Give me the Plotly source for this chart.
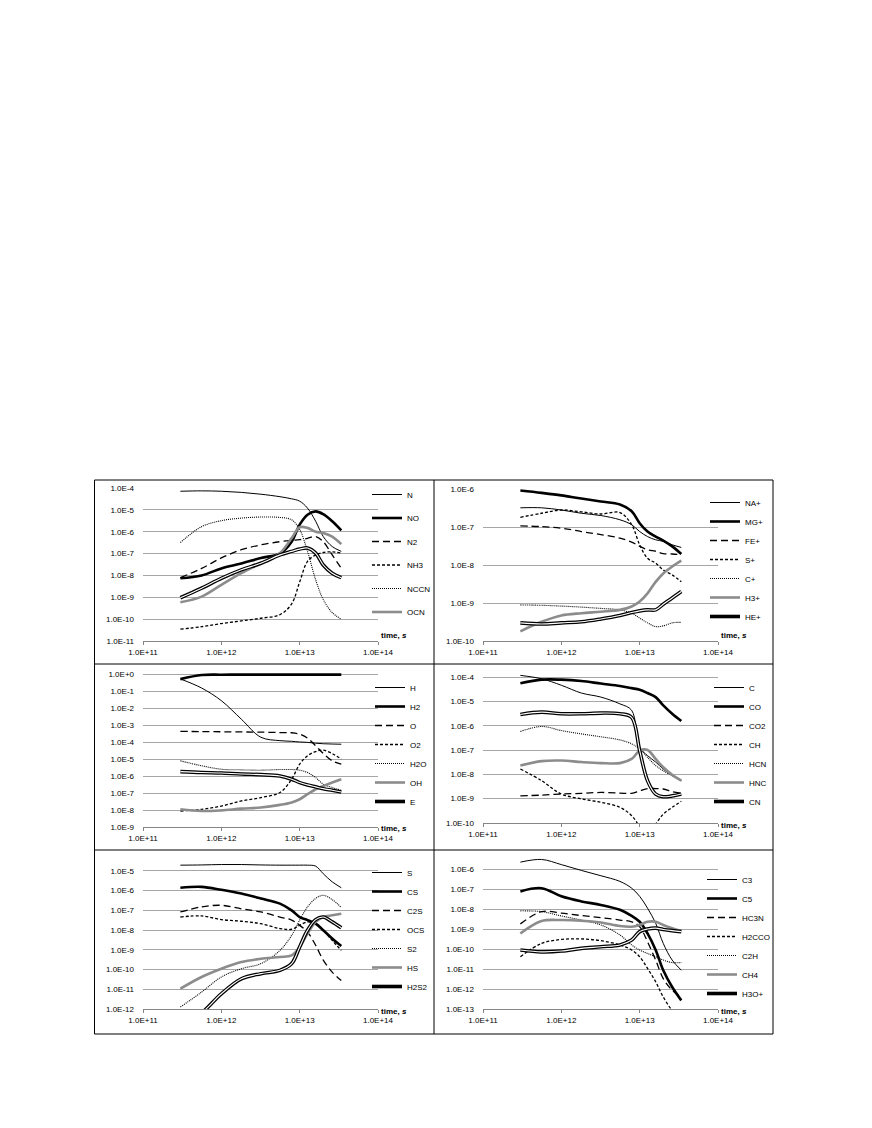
import plotly.graph_objects as go

W, H = 872, 1128
OFF = 8  # page body margin of the html file

# time points (s)
TIME = [3.0e11, 5.6e11, 1.0e12, 1.8e12, 3.2e12, 5.6e12, 7.9e12,
        1.0e13, 1.26e13, 1.6e13, 2.0e13, 2.6e13, 3.4e13]

X_TICKS = [1e11, 1e12, 1e13, 1e14]
X_TICK_TEXT = ["1.0E+11", "1.0E+12", "1.0E+13", "1.0E+14"]

# --- panel 1: nitrogen species
N = [7.1e-5, 7.4e-5, 7.1e-5, 6.3e-5, 5.2e-5, 4.0e-5, 3.2e-5, 2.5e-5, 1.2e-5, 3.0e-6, 6.0e-7, 2.1e-7, 1.26e-7]
NO = [7.4e-9, 1.0e-8, 2.1e-8, 3.5e-8, 6.3e-8, 1.0e-7, 3.5e-7, 2.1e-6, 6.0e-6, 8.5e-6, 6.3e-6, 3.0e-6, 1.15e-6]
N2 = [7.9e-9, 2.1e-8, 6.3e-8, 1.5e-7, 2.5e-7, 3.5e-7, 4.0e-7, 4.3e-7, 5.0e-7, 6.0e-7, 3.5e-7, 8.7e-8, 2.1e-8]
NH3 = [3.5e-11, 4.5e-11, 6.3e-11, 8.3e-11, 1.1e-10, 1.6e-10, 5.0e-10, 5.0e-9, 4.4e-8, 8.7e-8, 1.12e-7, 1.2e-7, 1.05e-7]
NCCN = [3.2e-7, 1.7e-6, 3.2e-6, 4.2e-6, 4.7e-6, 4.5e-6, 3.5e-6, 1.26e-6, 1.26e-7, 6.3e-9, 7.9e-10, 2.0e-10, 1.0e-10]
OCN = [5.9e-10, 1.07e-9, 3.7e-9, 1.26e-8, 3.6e-8, 1.05e-7, 5.1e-7, 1.6e-6, 1.5e-6, 1.0e-6, 8.7e-7, 6.0e-7, 2.7e-7]
P1_UNLISTED = [9.5e-10, 2.6e-9, 7.4e-9, 1.8e-8, 3.6e-8, 8.7e-8, 1.26e-7, 1.6e-7, 1.8e-7, 1.05e-7, 3.0e-8, 1.26e-8, 7.9e-9]

# --- panel 2: ions
NA_P = [3.2e-7, 3.2e-7, 2.8e-7, 2.3e-7, 2.0e-7, 1.55e-7, 1.15e-7, 7.6e-8, 5.6e-8, 4.6e-8, 4.2e-8, 3.4e-8, 2.9e-8]
MG_P = [9.1e-7, 7.9e-7, 6.8e-7, 5.6e-7, 4.7e-7, 3.9e-7, 2.6e-7, 1.26e-7, 7.6e-8, 5.6e-8, 4.4e-8, 3.1e-8, 1.95e-8]
FE_P = [1.07e-7, 1.02e-7, 9.3e-8, 7.6e-8, 6.3e-8, 5.1e-8, 4.0e-8, 3.1e-8, 2.5e-8, 2.3e-8, 2.0e-8, 1.95e-8, 1.86e-8]
S_P = [1.8e-7, 2.3e-7, 2.8e-7, 2.5e-7, 2.2e-7, 2.4e-7, 1.15e-7, 3.4e-8, 1.5e-8, 1.12e-8, 7.4e-9, 5.5e-9, 3.6e-9]
C_P = [8.9e-10, 8.7e-10, 8.3e-10, 7.8e-10, 7.2e-10, 6.6e-10, 5.4e-10, 4.0e-10, 3.0e-10, 2.4e-10, 2.5e-10, 3.0e-10, 3.1e-10]
H3_P = [1.8e-10, 3.2e-10, 4.7e-10, 5.4e-10, 5.9e-10, 6.6e-10, 8.1e-10, 1.1e-9, 1.8e-9, 3.6e-9, 6.0e-9, 9.1e-9, 1.3e-8]
HE_P = [3.0e-10, 2.8e-10, 3.0e-10, 3.2e-10, 3.8e-10, 4.7e-10, 5.6e-10, 6.2e-10, 6.6e-10, 6.6e-10, 9.3e-10, 1.35e-9, 2.0e-9]

# --- panel 3: H / O species
H_ = [0.51, 0.15, 2.7e-2, 2.2e-3, 1.9e-4, 1.2e-4, 1.1e-4, 1.0e-4, 9.5e-5, 8.5e-5, 7.9e-5, 7.6e-5, 7.4e-5]
H2 = [0.5, 0.87, 0.91, 0.92, 0.92, 0.92, 0.92, 0.92, 0.92, 0.92, 0.92, 0.92, 0.92]
O_ = [4.2e-4, 4.1e-4, 4.0e-4, 3.9e-4, 3.8e-4, 3.6e-4, 3.5e-4, 2.9e-4, 1.7e-4, 6.0e-5, 2.1e-5, 7.9e-6, 5.0e-6]
O2 = [8.7e-9, 1.1e-8, 1.7e-8, 3.4e-8, 5.4e-8, 1.07e-7, 6.5e-7, 5.0e-6, 1.55e-5, 2.75e-5, 3.3e-5, 2.1e-5, 9.8e-6]
H2O = [7.8e-6, 4.0e-6, 2.5e-6, 2.3e-6, 2.2e-6, 2.4e-6, 2.4e-6, 2.2e-6, 1.6e-6, 8.1e-7, 3.3e-7, 2.1e-7, 1.45e-7]
OH = [1.1e-8, 8.7e-9, 9.5e-9, 1.2e-8, 1.4e-8, 2.0e-8, 2.8e-8, 4.3e-8, 8.5e-8, 1.66e-7, 2.6e-7, 4.1e-7, 6.5e-7]
E_ = [1.8e-6, 1.6e-6, 1.5e-6, 1.3e-6, 1.2e-6, 1.0e-6, 6.5e-7, 4.1e-7, 3.0e-7, 2.3e-7, 1.8e-7, 1.45e-7, 1.15e-7]

# --- panel 4: carbon species
C_ = [1.17e-4, 8.5e-5, 4.6e-5, 2.2e-5, 1.5e-5, 7.9e-6, 4.3e-6, 1.3e-7, 5.9e-8, 3.2e-8, 1.66e-8, 8.9e-9, 5.5e-9]
CO = [5.6e-5, 7.8e-5, 7.8e-5, 6.9e-5, 5.4e-5, 4.3e-5, 3.5e-5, 3.0e-5, 2.2e-5, 1.5e-5, 6.8e-6, 3.1e-6, 1.55e-6]
CO2 = [1.3e-9, 1.4e-9, 1.55e-9, 1.66e-9, 1.8e-9, 1.7e-9, 1.66e-9, 2.1e-9, 2.6e-9, 2.6e-9, 2.5e-9, 1.95e-9, 1.66e-9]
CH = [1.66e-8, 5.5e-9, 1.55e-9, 9.8e-10, 7.1e-10, 4.4e-10, 2.0e-10, 7.1e-11, 2.5e-11, 9.0e-11, 2.3e-10, 4.4e-10, 7.8e-10]
HCN = [5.8e-7, 9.3e-7, 6.3e-7, 4.6e-7, 3.5e-7, 2.6e-7, 1.8e-7, 1.1e-7, 5.0e-8, 2.3e-8, 1.4e-8, 8.9e-9, 5.5e-9]
HNC = [2.3e-8, 3.5e-8, 3.7e-8, 3.2e-8, 2.9e-8, 2.9e-8, 4.3e-8, 9.5e-8, 1.0e-7, 4.3e-8, 1.95e-8, 9.5e-9, 5.5e-9]
CN = [2.9e-6, 3.6e-6, 3.1e-6, 3.1e-6, 3.3e-6, 3.1e-6, 2.2e-6, 9.5e-8, 5.5e-9, 1.55e-9, 1.2e-9, 1.3e-9, 1.55e-9]

# --- panel 5: sulphur species
S_ = [1.95e-5, 2.0e-5, 2.1e-5, 2.1e-5, 2.0e-5, 1.95e-5, 1.95e-5, 1.95e-5, 1.95e-5, 1.74e-5, 7.2e-6, 2.8e-6, 1.4e-6]
CS = [1.4e-6, 1.55e-6, 1.1e-6, 7.1e-7, 4.0e-7, 2.2e-7, 1.0e-7, 4.6e-8, 3.2e-8, 2.1e-8, 9.8e-9, 3.7e-9, 1.55e-9]
C2S = [8.3e-8, 1.5e-7, 1.8e-7, 1.2e-7, 8.3e-8, 4.6e-8, 3.2e-8, 1.74e-8, 7.9e-9, 1.7e-9, 3.0e-10, 7.4e-11, 2.8e-11]
OCS = [4.6e-8, 5.2e-8, 3.4e-8, 2.8e-8, 2.1e-8, 1.2e-8, 1.1e-8, 1.74e-8, 2.6e-8, 2.1e-8, 9.8e-9, 3.0e-9, 9.3e-10]
S2 = [1.26e-12, 7.2e-12, 4.2e-11, 1.1e-10, 2.0e-10, 9.3e-10, 5.4e-9, 3.2e-8, 1.5e-7, 4.0e-7, 5.8e-7, 3.5e-7, 1.4e-7]
HS = [1.07e-11, 4.2e-11, 1.1e-10, 2.4e-10, 3.5e-10, 4.3e-10, 5.2e-10, 1.4e-9, 6.6e-9, 2.6e-8, 4.6e-8, 5.6e-8, 6.8e-8]
H2S2 = [1.26e-13, 6.3e-13, 5.9e-12, 3.4e-11, 6.2e-11, 9.1e-11, 2.0e-10, 1.4e-9, 9.8e-9, 3.4e-8, 4.6e-8, 2.6e-8, 1.3e-8]

# --- panel 6: larger molecules
C3 = [2.2e-6, 3.0e-6, 1.66e-6, 8.5e-7, 4.6e-7, 2.4e-7, 1.1e-7, 4.3e-8, 1.1e-8, 1.95e-9, 1.9e-10, 2.8e-11, 8.7e-12]
C5 = [7.6e-8, 1.1e-7, 4.3e-8, 2.4e-8, 1.6e-8, 9.1e-9, 4.5e-9, 2.3e-9, 6.0e-10, 8.9e-11, 8.7e-12, 1.26e-12, 2.7e-13]
HC3N = [1.8e-9, 7.4e-9, 6.2e-9, 4.7e-9, 3.7e-9, 2.8e-9, 2.3e-9, 1.3e-9, 2.3e-10, 2.8e-11, 3.3e-12, 8.7e-13, 4.0e-13]
H2CCO = [4.1e-11, 1.9e-10, 3.0e-10, 3.2e-10, 2.6e-10, 1.6e-10, 8.9e-11, 4.1e-11, 1.07e-11, 2.3e-12, 4.0e-13, 8.5e-14, 3.2e-14]
C2H = [8.1e-9, 7.4e-9, 4.5e-9, 2.8e-9, 1.6e-9, 5.0e-10, 1.6e-10, 8.9e-11, 6.0e-11, 4.1e-11, 2.8e-11, 2.1e-11, 2.1e-11]
CH4 = [6.0e-10, 2.5e-9, 2.8e-9, 2.6e-9, 2.1e-9, 1.4e-9, 1.3e-9, 1.6e-9, 2.3e-9, 2.3e-9, 1.6e-9, 1.1e-9, 7.9e-10]
H3O_P = [8.9e-11, 7.2e-11, 7.9e-11, 1.07e-10, 1.3e-10, 1.6e-10, 2.8e-10, 7.4e-10, 1.0e-9, 1.1e-9, 9.5e-10, 8.3e-10, 7.4e-10]

# y tick labels per panel
Y1_TEXT = ["1.0E-4", "1.0E-5", "1.0E-6", "1.0E-7", "1.0E-8", "1.0E-9", "1.0E-10", "1.0E-11"]
Y2_TEXT = ["1.0E-6", "1.0E-7", "1.0E-8", "1.0E-9", "1.0E-10"]
Y3_TEXT = ["1.0E+0", "1.0E-1", "1.0E-2", "1.0E-3", "1.0E-4", "1.0E-5", "1.0E-6", "1.0E-7", "1.0E-8", "1.0E-9"]
Y4_TEXT = ["1.0E-4", "1.0E-5", "1.0E-6", "1.0E-7", "1.0E-8", "1.0E-9", "1.0E-10"]
Y5_TEXT = ["1.0E-5", "1.0E-6", "1.0E-7", "1.0E-8", "1.0E-9", "1.0E-10", "1.0E-11", "1.0E-12"]
Y6_TEXT = ["1.0E-6", "1.0E-7", "1.0E-8", "1.0E-9", "1.0E-10", "1.0E-11", "1.0E-12", "1.0E-13"]

STYLES = ["thin", "thick", "long", "short", "dot", "gray", "double"]

# box = plot area in px (x0, x1, y_top, y_bottom); leg = legend left/top in px;
# tshift = vertical offset of the "time, s" label centre from the x axis
PANELS = [
    dict(names=["N", "NO", "N2", "NH3", "NCCN", "OCN", None],
         data=[N, NO, N2, NH3, NCCN, OCN, P1_UNLISTED], yticks=Y1_TEXT, top=-4,
         rng=[-11, -4], box=(143, 378, 488, 641), leg=(367, 480), gap=4.5, tshift=6),
    dict(names=["NA+", "MG+", "FE+", "S+", "C+", "H3+", "HE+"],
         data=[NA_P, MG_P, FE_P, S_P, C_P, H3_P, HE_P], yticks=Y2_TEXT, top=-6,
         rng=[-10, -6], box=(483, 718, 489, 641), leg=(705, 488), gap=0, tshift=6),
    dict(names=["H", "H2", "O", "O2", "H2O", "OH", "E"],
         data=[H_, H2, O_, O2, H2O, OH, E_], yticks=Y3_TEXT, top=0,
         rng=[-9, 0.1], box=(143, 378, 672.3, 827), leg=(370, 673), gap=0, tshift=-1),
    dict(names=["C", "CO", "CO2", "CH", "HCN", "HNC", "CN"],
         data=[C_, CO, CO2, CH, HCN, HNC, CN], yticks=Y4_TEXT, top=-4,
         rng=[-10, -3.85], box=(483, 718, 673.4, 823), leg=(709, 673), gap=0, tshift=-2),
    dict(names=["S", "CS", "C2S", "OCS", "S2", "HS", "H2S2"],
         data=[S_, CS, C2S, OCS, S2, HS, H2S2], yticks=Y5_TEXT, top=-5,
         rng=[-12, -4.6], box=(143, 378, 863, 1009), leg=(367, 858), gap=0, tshift=-2),
    dict(names=["C3", "C5", "HC3N", "H2CCO", "C2H", "CH4", "H3O+"],
         data=[C3, C5, HC3N, H2CCO, C2H, CH4, H3O_P], yticks=Y6_TEXT, top=-6,
         rng=[-13, -5.4], box=(483, 718, 857, 1009), leg=(702, 865), gap=0, tshift=-2),
]

FONT = "Liberation Sans, Arial, sans-serif"


def fx(px):
    return (px - OFF) / W


def fy(px):
    return 1 - (px - OFF) / H


def line_style(style):
    if style == "thin":
        return dict(color="black", width=1)
    if style == "thick":
        return dict(color="black", width=2.6)
    if style == "long":
        return dict(color="black", width=1.3, dash="7px,4px")
    if style == "short":
        return dict(color="black", width=1.3, dash="3px,2px")
    if style == "dot":
        return dict(color="black", width=1.1, dash="1px,1px")
    if style == "gray":
        return dict(color="#8c8c8c", width=2.6)
    return dict(color="black", width=3.6)


fig = go.Figure()
layout = {}
annotations = []

for i, panel in enumerate(PANELS, start=1):
    sfx = "" if i == 1 else str(i)
    xa, ya = f"x{sfx}", f"y{sfx}"
    leg = "legend" if i == 1 else f"legend{i}"
    x0, x1, yt, yb = panel["box"]
    for name, vals, style in zip(panel["names"], panel["data"], STYLES):
        group = f"p{i}-{name}"
        fig.add_trace(go.Scatter(
            x=TIME, y=vals, mode="lines", name=name or "unlisted",
            line=dict(shape="spline", smoothing=1.0, **line_style(style)),
            xaxis=xa, yaxis=ya, legend=leg, legendgroup=group,
            showlegend=name is not None,
        ))
        if style == "double":
            # white core on top of the wide black line -> double line
            fig.add_trace(go.Scatter(
                x=TIME, y=vals, mode="lines", name=name or "unlisted",
                line=dict(shape="spline", smoothing=1.0, color="white", width=1.1),
                xaxis=xa, yaxis=ya, legend=leg, legendgroup=group,
                showlegend=False, hoverinfo="skip",
            ))
    n_ticks = len(panel["yticks"])
    layout[f"xaxis{sfx}"] = dict(
        domain=[fx(x0), fx(x1)], anchor=ya, type="log", range=[11, 14],
        tickvals=X_TICKS, ticktext=X_TICK_TEXT, showgrid=False, zeroline=False,
        showline=True, linecolor="#868686", linewidth=1,
        ticks="outside", ticklen=3, tickcolor="#868686",
        tickfont=dict(family=FONT, size=8, color="black"),
    )
    layout[f"yaxis{sfx}"] = dict(
        domain=[fy(yb), fy(yt)], anchor=xa, type="log", range=panel["rng"],
        tickvals=[10.0 ** (panel["top"] - k) for k in range(n_ticks)],
        ticktext=panel["yticks"], showgrid=True, gridcolor="#a6a6a6", gridwidth=1,
        zeroline=False, showline=False, ticks="", ticklabelstandoff=8,
        tickfont=dict(family=FONT, size=8, color="black"),
    )
    lx, ly = panel["leg"]
    layout[leg] = dict(
        x=fx(lx), y=fy(ly), xanchor="left", yanchor="top",
        bgcolor="rgba(0,0,0,0)", borderwidth=0, tracegroupgap=panel["gap"],
        itemwidth=30, font=dict(family=FONT, size=8, color="black"),
    )
    annotations.append(dict(
        text="<b>time, <i>s</i></b>", xref=f"{xa} domain", yref=f"{ya} domain",
        x=1.0, y=0, xanchor="left", yanchor="middle", xshift=1, yshift=panel["tshift"],
        showarrow=False, font=dict(family=FONT, size=8, color="black"),
    ))

# outer frame and panel separators
LINE = dict(color="black", width=1)
shapes = [
    dict(type="rect", xref="paper", yref="paper", x0=fx(94.5), x1=fx(773),
         y0=fy(1034), y1=fy(480), line=LINE),
    dict(type="line", xref="paper", yref="paper", x0=fx(434), x1=fx(434),
         y0=fy(1034), y1=fy(480), line=LINE),
    dict(type="line", xref="paper", yref="paper", x0=fx(94.5), x1=fx(773),
         y0=fy(664), y1=fy(664), line=LINE),
    dict(type="line", xref="paper", yref="paper", x0=fx(94.5), x1=fx(773),
         y0=fy(850), y1=fy(850), line=LINE),
]

fig.update_layout(
    width=W, height=H, margin=dict(l=0, r=0, t=0, b=0, autoexpand=False),
    paper_bgcolor="white", plot_bgcolor="white",
    showlegend=True, annotations=annotations, shapes=shapes,
    **layout,
)

fig.write_html("out.html")
